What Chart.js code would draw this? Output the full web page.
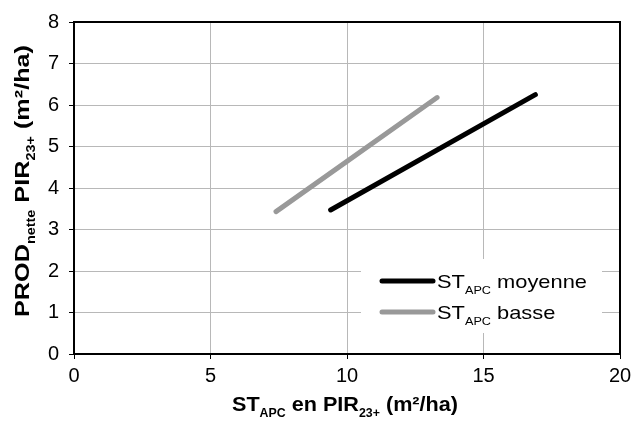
<!DOCTYPE html>
<html><head><meta charset="utf-8">
<script src="https://cdn.jsdelivr.net/npm/chart.js@4/dist/chart.umd.min.js"></script>
<style>html,body{margin:0;padding:0;background:#fff}#wrap{width:643px;height:421px}</style>
</head><body><div id="wrap"><canvas id="c" width="643" height="421"></canvas></div>
<script>
const xTicks = [0, 5, 10, 15, 20];
const yTicks = [0, 1, 2, 3, 4, 5, 6, 7, 8];
const moyenneX = [9.4, 16.9];
const moyenneY = [3.47, 6.25];
const basseX = [7.4, 13.3];
const basseY = [3.43, 6.18];
const seriesLabels = ['moyenne', 'basse'];

const FONT = '"Liberation Sans", Arial, sans-serif';

function pts(xs, ys){ return xs.map((x,i)=>({x:x, y:ys[i]})); }

function measureParts(ctx, parts, bigSize, smallSize, bold){
  return parts.map(p=>{ctx.font=(bold?'bold ':'')+(p.sub?smallSize:bigSize)+'px '+FONT; return ctx.measureText(p.t).width;});
}

function drawSub(ctx, parts, x, y, bigSize, smallSize, bold, align, sx){
  const w = measureParts(ctx, parts, bigSize, smallSize, bold);
  const total = w.reduce((a,b)=>a+b,0);
  ctx.save();
  ctx.translate(x, y);
  ctx.scale(sx, 1);
  let cx = align==='center' ? -total/2 : 0;
  parts.forEach((p,i)=>{
    ctx.font=(bold?'bold ':'')+(p.sub?smallSize:bigSize)+'px '+FONT;
    ctx.fillText(p.t, cx, (p.sub ? bigSize*0.3 : 0));
    cx += w[i];
  });
  ctx.restore();
}
function fitScale(ctx, parts, bigSize, smallSize, bold, targetW){
  const total = measureParts(ctx, parts, bigSize, smallSize, bold).reduce((a,b)=>a+b,0);
  return targetW/total;
}

const deco = {
  id:'deco',
  afterDatasetsDraw(chart){
    const ctx = chart.ctx, a = chart.chartArea;
    ctx.save();
    // legend box
    ctx.fillStyle='#fff';
    ctx.fillRect(361, 259, 241, 74);
    const ds = chart.data.datasets;
    const rows = [281, 312];
    const legParts = seriesLabels.map(s=>[{t:'ST'},{t:'APC',sub:true},{t:' '+s}]);
    const lsx = fitScale(ctx, legParts[0], 19, 11, false, 150);
    ds.forEach((d,i)=>{
      ctx.strokeStyle=d.borderColor; ctx.lineWidth=5; ctx.lineCap='round';
      ctx.beginPath(); ctx.moveTo(382, rows[i]); ctx.lineTo(433, rows[i]); ctx.stroke();
      ctx.fillStyle='#000'; ctx.textBaseline='alphabetic'; ctx.textAlign='left';
      drawSub(ctx, legParts[i], 437, rows[i]+7, 19, 11, false, 'left', lsx);
    });
    // border
    ctx.strokeStyle='#000'; ctx.lineWidth=2; ctx.lineCap='butt';
    ctx.strokeRect(a.left, a.top, a.right-a.left, a.bottom-a.top);
    // x title
    ctx.fillStyle='#000'; ctx.textAlign='left'; ctx.textBaseline='alphabetic';
    const xt = [{t:'ST'},{t:'APC',sub:true},{t:' en PIR'},{t:'23+',sub:true},{t:' (m²/ha)'}];
    drawSub(ctx, xt, 345, 411, 21, 12, true, 'center', fitScale(ctx, xt, 21, 12, true, 226));
    // y title
    const yt = [{t:'PROD'},{t:'nette',sub:true},{t:' PIR'},{t:'23+',sub:true},{t:' (m²/ha)'}];
    const ysx = fitScale(ctx, yt, 21, 12, true, 272);
    ctx.translate(29, 181);
    ctx.rotate(-Math.PI/2);
    drawSub(ctx, yt, 0, 0, 21, 12, true, 'center', ysx);
    ctx.restore();
  }
};

new Chart(document.getElementById('c'), {
  type:'scatter',
  data:{datasets:[
    {label:'ST APC moyenne', data:pts(moyenneX, moyenneY), showLine:true, borderColor:'#000', borderWidth:5, borderCapStyle:'round', pointRadius:0, fill:false},
    {label:'ST APC basse', data:pts(basseX, basseY), showLine:true, borderColor:'#999', borderWidth:5, borderCapStyle:'round', pointRadius:0, fill:false}
  ]},
  plugins:[deco],
  options:{
    responsive:false, animation:false,
    layout:{padding:{top:13, right:23, left:0, bottom:0}},
    plugins:{legend:{display:false}, tooltip:{enabled:false}},
    scales:{
      x:{type:'linear', min:xTicks[0], max:xTicks[xTicks.length-1],
        afterBuildTicks(ax){ ax.ticks = xTicks.map(v=>({value:v})); },
        afterFit(ax){ ax.height = 67; },
        grid:{color:'#b8b8b8', lineWidth:1, tickColor:'#000', tickLength:5, drawTicks:true},
        border:{display:false},
        ticks:{color:'#000', font:{family:FONT, size:20}, padding:5, maxRotation:0}
      },
      y:{type:'linear', min:yTicks[0], max:yTicks[yTicks.length-1],
        afterBuildTicks(ax){ ax.ticks = yTicks.map(v=>({value:v})); },
        afterFit(ax){ ax.width = 74; },
        grid:{color:'#b8b8b8', lineWidth:1, tickColor:'#000', tickLength:5, drawTicks:true},
        border:{display:false},
        ticks:{color:'#000', font:{family:FONT, size:20}, padding:10}
      }
    }
  }
});
</script></body></html>
